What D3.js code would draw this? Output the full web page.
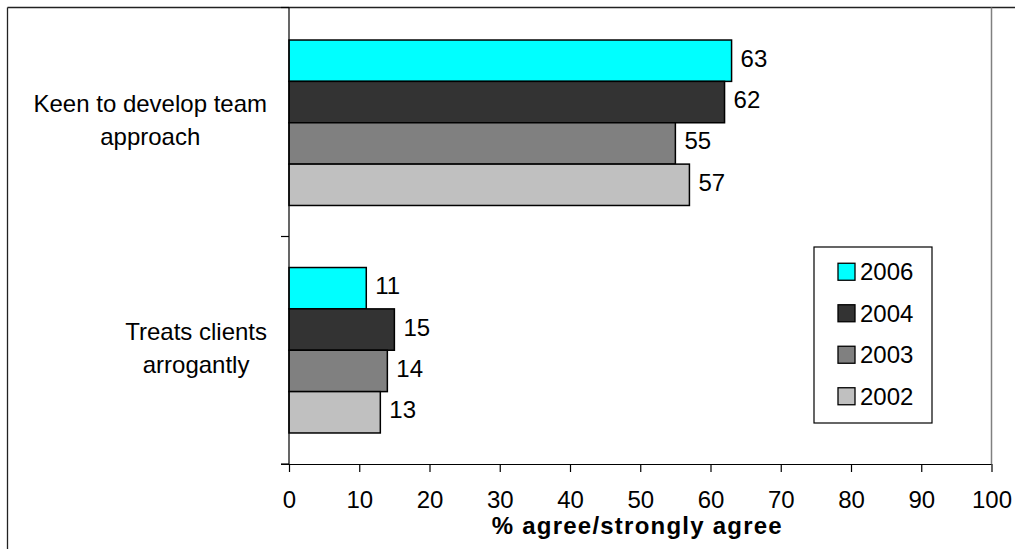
<!DOCTYPE html>
<html>
<head>
<meta charset="utf-8">
<script src="https://cdn.jsdelivr.net/npm/d3@7"></script>
<style>
  html, body { margin: 0; padding: 0; background: #fff; }
  svg { display: block; font-family: "Liberation Sans", Arial, sans-serif; }
</style>
</head>
<body>
<svg id="chart" width="1015" height="549"></svg>
<script>
const categories = ["Keen to develop team\napproach", "Treats clients\narrogantly"];
const seriesNames = ["2006", "2004", "2003", "2002"];
const s2006 = [63, 11];
const s2004 = [62, 15];
const s2003 = [55, 14];
const s2002 = [57, 13];
const seriesValues = [s2006, s2004, s2003, s2002];
const seriesColors = ["#00FFFF", "#333333", "#808080", "#C0C0C0"];
const xTicks = [0, 10, 20, 30, 40, 50, 60, 70, 80, 90, 100];
const xTitle = "% agree/strongly agree";

const svg = d3.select("#chart");
const FS = 24;

const x = d3.scaleLinear().domain([0, 100]).range([289, 991.5]);
const y0 = d3.scaleBand().domain(categories).range([9, 464]).paddingInner(0).paddingOuter(0);
const y1 = d3.scaleBand().domain(seriesNames).range([0, y0.bandwidth()]).paddingInner(0).paddingOuter(0.75);

// outer frame lines
svg.append("line").attr("x1", 7.5).attr("x2", 1015).attr("y1", 7.5).attr("y2", 7.5)
  .attr("stroke", "#222").attr("stroke-width", 1.3);
svg.append("line").attr("x1", 7.5).attr("x2", 7.5).attr("y1", 7.5).attr("y2", 549)
  .attr("stroke", "#222").attr("stroke-width", 1.3);
// plot area right edge (gray)
svg.append("line").attr("x1", x(100)).attr("x2", x(100)).attr("y1", 7.5).attr("y2", 464)
  .attr("stroke", "#808080").attr("stroke-width", 1.5);

// bars
const groups = svg.append("g").selectAll("g").data(categories).join("g")
  .attr("transform", d => `translate(0,${y0(d)})`);

groups.each(function(cat, ci) {
  const g = d3.select(this);
  seriesNames.forEach((s, si) => {
    const v = seriesValues[si][ci];
    g.append("rect")
      .attr("x", x(0))
      .attr("y", y1(s))
      .attr("width", x(v) - x(0))
      .attr("height", y1.bandwidth())
      .attr("fill", seriesColors[si])
      .attr("stroke", "#000")
      .attr("stroke-width", 1.5);
    g.append("text")
      .attr("x", x(v) + 9)
      .attr("y", y1(s) + y1.bandwidth() / 2 + 6)
      .attr("font-size", FS)
      .attr("fill", "#000")
      .text(v);
  });
});

// y axis
const yAxis = svg.append("g");
yAxis.append("line").attr("x1", x(0)).attr("x2", x(0)).attr("y1", 7.5).attr("y2", 464)
  .attr("stroke", "#000").attr("stroke-width", 1.2);
const yTickPos = [7.5, y0(categories[1]), 464];
yAxis.selectAll("line.tick").data(yTickPos).join("line").attr("class", "tick")
  .attr("x1", x(0) - 8).attr("x2", x(0)).attr("y1", d => d).attr("y2", d => d)
  .attr("stroke", "#000").attr("stroke-width", 1.2);

// category labels (centered block, right edge at 267)
categories.forEach(cat => {
  const lines = cat.split("\n");
  const t = svg.append("text").attr("font-size", FS).attr("fill", "#000").attr("text-anchor", "middle");
  const lh = 33;
  const cy = y0(cat) + y0.bandwidth() / 2 - 2;
  const tsp = lines.map((ln, i) => t.append("tspan")
    .attr("y", cy + (i - (lines.length - 1) / 2) * lh + 8)
    .text(ln));
  let maxW = 0;
  tsp.forEach(ts => { maxW = Math.max(maxW, ts.node().getComputedTextLength()); });
  const cx = 267 - maxW / 2;
  tsp.forEach(ts => ts.attr("x", cx));
});

// x axis
const xAxis = svg.append("g").attr("transform", "translate(0,464)")
  .call(d3.axisBottom(x).tickValues(xTicks).tickSize(8).tickPadding(19).tickFormat(d3.format("d")));
xAxis.select(".domain").attr("d", `M${x(0) - 8},0.5H${x(100)}`).attr("stroke", "#000").attr("stroke-width", 1.2);
xAxis.selectAll(".tick line").attr("stroke", "#000").attr("stroke-width", 1.2);
xAxis.selectAll(".tick text").attr("font-size", FS).attr("fill", "#000")
  .attr("font-family", "'Liberation Sans', Arial, sans-serif");

svg.append("text")
  .attr("x", 636.7).attr("y", 534)
  .attr("text-anchor", "middle")
  .attr("font-size", FS).attr("font-weight", "bold")
  .attr("textLength", 290).attr("lengthAdjust", "spacing")
  .text(xTitle);

// legend
const leg = svg.append("g");
leg.append("rect").attr("x", 814).attr("y", 247).attr("width", 118).attr("height", 176)
  .attr("fill", "#fff").attr("stroke", "#000").attr("stroke-width", 1.2);
const legY = d3.scaleBand().domain(seriesNames).range([251, 417]);
seriesNames.forEach((s, i) => {
  const cy = legY(s) + legY.bandwidth() / 2;
  leg.append("rect").attr("x", 838).attr("y", cy - 8.5).attr("width", 17).attr("height", 17)
    .attr("fill", seriesColors[i]).attr("stroke", "#000").attr("stroke-width", 1.3);
  leg.append("text").attr("x", 860).attr("y", cy + 8.5)
    .attr("font-size", FS).attr("fill", "#000").text(s);
});
</script>
</body>
</html>
